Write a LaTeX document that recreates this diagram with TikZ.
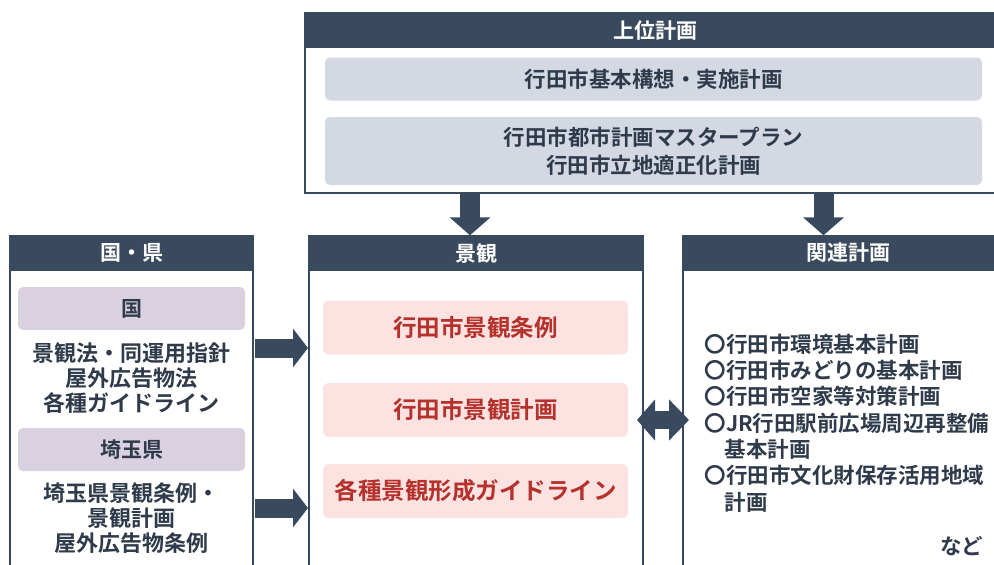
\documentclass[tikz,border=0pt]{standalone}
\usepackage{fontspec}
\setmainfont{Noto Sans CJK JP}[BoldFont={Noto Sans CJK JP Bold}]
\usetikzlibrary{arrows.meta}

\definecolor{navy}{HTML}{3A4A5E}
\definecolor{inktext}{HTML}{2F3B4A}
\definecolor{slatebox}{HTML}{D3D8E3}
\definecolor{lilacbox}{HTML}{D9D0E0}
\definecolor{pinkbox}{HTML}{FCE2E1}
\definecolor{redtext}{HTML}{B5312C}

\tikzset{
	frame/.style = {draw=navy, line width=2pt, fill=white, inner sep=0pt},
	headbar/.style = {fill=navy, text=white, inner sep=0pt, minimum height=35pt, font=\fontsize{21}{24}\selectfont\bfseries},
	planbox/.style = {fill=slatebox, rounded corners=5pt, inner sep=0pt, text=inktext, align=center, font=\fontsize{21.5}{28}\selectfont\bfseries},
	levelbox/.style = {fill=lilacbox, rounded corners=5pt, inner sep=0pt, minimum width=227pt, minimum height=43pt, text=inktext, font=\fontsize{21}{24}\selectfont\bfseries},
	lawtext/.style = {text=inktext, align=center, font=\fontsize{22}{25}\selectfont\bfseries},
	keikanbox/.style = {fill=pinkbox, rounded corners=6pt, inner sep=0pt, minimum width=305pt, minimum height=54pt, text=redtext, font=\fontsize{23.5}{26}\selectfont\bfseries},
	listtext/.style = {text=inktext, align=left, font=\fontsize{21.5}{26.3}\selectfont\bfseries},
	blockarrow/.style = {draw=navy, line width=20pt, -{Triangle[length=18pt, width=40pt]}},
	sidearrow/.style = {draw=navy, line width=19pt, -{Triangle[length=15pt, width=38pt]}},
	bothways/.style = {draw=navy, line width=18pt, {Triangle[length=18pt, width=40pt]}-{Triangle[length=20pt, width=40pt]}}
}

\begin{document}
\begin{tikzpicture}[x=1pt, y=-1pt]
	\useasboundingbox (0,0) rectangle (994,565);
	\clip (0,0) rectangle (994,565);
	
	\node[frame, minimum width=700pt, minimum height=180pt] (upper) at (655,103) {};
	\node[headbar, minimum width=700pt] (upperhead) at (655,30.5) {上位計画};
	\node[planbox, minimum width=657pt, minimum height=43pt] (kihon) at (653.5,79) {行田市基本構想・実施計画};
	\node[planbox, minimum width=657pt, minimum height=68pt] (master) at (653.5,151) {行田市都市計画マスタープラン\\行田市立地適正化計画};
	
	\node[frame, minimum width=243pt, minimum height=360pt] (kuni) at (131.5,416) {};
	\node[headbar, minimum width=243pt] (kunihead) at (131.5,253) {国・県};
	\node[levelbox] (national) at (131.5,308.5) {国};
	\node[lawtext] (nationallaw) at (131.5,378) {景観法・同運用指針\\屋外広告物法\\各種ガイドライン};
	\node[levelbox] (saitama) at (131.5,449.5) {埼玉県};
	\node[lawtext] (saitamalaw) at (131.5,518) {埼玉県景観条例・\\景観計画\\屋外広告物条例};
	
	\node[frame, minimum width=334pt, minimum height=360pt] (keikan) at (476,416) {};
	\node[headbar, minimum width=334pt] (keikanhead) at (476,253) {景観};
	\node[keikanbox] (jorei) at (475.5,327.5) {行田市景観条例};
	\node[keikanbox] (keikaku) at (475.5,410) {行田市景観計画};
	\node[keikanbox] (guide) at (475.5,491) {各種景観形成ガイドライン};
	
	\node[frame, minimum width=330pt, minimum height=360pt] (kanren) at (848,416) {};
	\node[headbar, minimum width=330pt] (kanrenhead) at (848,253) {関連計画};
	\node[listtext, anchor=west] (kanrenlist) at (701,423) {〇行田市環境基本計画\\〇行田市みどりの基本計画\\〇行田市空家等対策計画\\〇JR行田駅前広場周辺再整備\\\hspace*{20pt}基本計画\\〇行田市文化財保存活用地域\\\hspace*{20pt}計画};
	\node[listtext, anchor=east] (nado) at (987,546) {など};
	
	\coordinate (downright) at (823.5,0);
	\coordinate (fromnation) at (0,348);
	\coordinate (fromsaitama) at (0,508);
	\coordinate (linkrow) at (0,420);
	
	\draw[blockarrow] ([xshift=-6pt]upper.south -| keikanhead) -- ([xshift=-6pt]keikanhead.north);
	\draw[blockarrow] (upper.south -| downright) -- (kanrenhead.north -| downright);
	
	\draw[sidearrow] ([xshift=1pt]kuni.east |- fromnation) -- (keikan.west |- fromnation);
	\draw[sidearrow] ([xshift=1pt]kuni.east |- fromsaitama) -- (keikan.west |- fromsaitama);
	
	\draw[bothways, shorten <=-7pt, shorten >=-7pt] (keikan.east |- linkrow) -- (kanren.west |- linkrow);
	
\end{tikzpicture}
\end{document}
